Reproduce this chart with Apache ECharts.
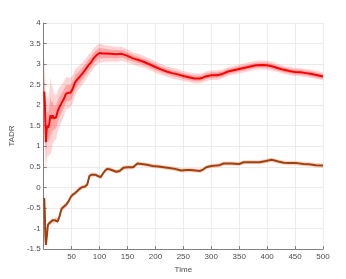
<!DOCTYPE html>
<html><head><meta charset="utf-8">
<script src="https://cdn.jsdelivr.net/npm/echarts@6/dist/echarts.min.js"></script>
<style>html,body{margin:0;padding:0;background:#fff}#c{width:346px;height:279px}</style>
</head><body><div id="c"></div>
<script>
const xTicks = [50,100,150,200,250,300,350,400,450,500];
const yTicks = [-1.5,-1,-0.5,0,0.5,1,1.5,2,2.5,3,3.5,4];

const redTime = [1,2,3,4,5,6,8,10,12,14,16,18,20,22,25,28,32,36,40,44,48,52,56,60,65,70,75,80,85,90,95,100,105,110,120,130,140,150,160,170,180,190,200,210,220,230,240,250,260,270,280,285,290,300,310,320,330,340,350,360,370,380,390,400,410,420,430,440,450,460,470,480,490,500];
const redMean = [2.33,2.1,1.6,1.1,1.35,1.5,1.45,1.55,1.75,1.68,1.75,1.68,1.72,1.7,1.85,1.95,2.05,2.15,2.28,2.3,2.3,2.4,2.55,2.62,2.7,2.78,2.87,2.97,3.05,3.15,3.22,3.27,3.26,3.26,3.25,3.24,3.25,3.20,3.14,3.10,3.05,2.99,2.93,2.87,2.82,2.78,2.75,2.71,2.68,2.65,2.65,2.67,2.70,2.73,2.73,2.76,2.82,2.85,2.88,2.91,2.94,2.97,2.98,2.97,2.94,2.90,2.86,2.83,2.81,2.80,2.78,2.76,2.73,2.70];
const redOuter = [0.9,0.9,0.9,0.8,0.8,0.75,0.7,0.75,0.95,0.8,0.7,0.6,0.55,0.55,0.5,0.48,0.45,0.42,0.4,0.38,0.36,0.34,0.32,0.3,0.28,0.27,0.26,0.25,0.24,0.24,0.24,0.23,0.22,0.2,0.19,0.18,0.17,0.16,0.15,0.15,0.14,0.14,0.14,0.13,0.13,0.13,0.13,0.12,0.12,0.12,0.12,0.12,0.12,0.12,0.12,0.11,0.11,0.11,0.11,0.11,0.11,0.11,0.11,0.11,0.11,0.1,0.1,0.1,0.1,0.1,0.1,0.1,0.1,0.1];
const redInner = [0.45,0.45,0.45,0.4,0.4,0.38,0.35,0.38,0.45,0.4,0.35,0.3,0.28,0.28,0.26,0.25,0.24,0.22,0.21,0.2,0.19,0.18,0.17,0.16,0.15,0.15,0.14,0.14,0.13,0.13,0.13,0.12,0.12,0.11,0.1,0.1,0.09,0.09,0.08,0.08,0.08,0.08,0.08,0.07,0.07,0.07,0.07,0.07,0.07,0.07,0.07,0.07,0.07,0.07,0.07,0.06,0.06,0.06,0.06,0.06,0.06,0.06,0.06,0.06,0.06,0.06,0.06,0.06,0.06,0.06,0.06,0.06,0.06,0.06];

const brownTime = [1,2,3,4,5,6,7,8,10,12,14,16,18,20,22,25,28,32,36,41,45,49,53,57,63,68,74,78,82,86,90,94,98,102,106,110,114,118,124,130,136,143,150,160,168,175,185,195,205,215,225,235,246,255,263,272,280,286,291,300,308,315,322,335,350,358,370,386,398,408,420,430,442,453,465,475,487,500];
const brownMean = [-0.26,-0.6,-1.2,-1.40,-1.38,-1.15,-0.98,-0.9,-0.87,-0.85,-0.83,-0.8,-0.84,-0.8,-0.77,-0.83,-0.72,-0.52,-0.47,-0.41,-0.33,-0.22,-0.17,-0.13,-0.05,0.0,0.02,0.07,0.28,0.31,0.31,0.30,0.27,0.25,0.33,0.41,0.45,0.44,0.41,0.38,0.40,0.48,0.49,0.49,0.58,0.57,0.55,0.52,0.51,0.49,0.47,0.45,0.41,0.42,0.42,0.41,0.40,0.44,0.49,0.52,0.53,0.54,0.58,0.58,0.57,0.61,0.61,0.61,0.64,0.67,0.63,0.60,0.59,0.59,0.57,0.56,0.54,0.53];
const brownBand = [0.07,0.07,0.07,0.07,0.07,0.07,0.06,0.06,0.06,0.06,0.06,0.06,0.06,0.06,0.06,0.06,0.06,0.06,0.06,0.06,0.05,0.05,0.05,0.05,0.05,0.05,0.05,0.05,0.05,0.05,0.05,0.05,0.05,0.05,0.05,0.05,0.05,0.05,0.05,0.05,0.05,0.05,0.05,0.05,0.05,0.05,0.05,0.05,0.05,0.05,0.05,0.05,0.05,0.05,0.05,0.05,0.05,0.05,0.05,0.05,0.05,0.05,0.05,0.05,0.05,0.05,0.05,0.05,0.05,0.05,0.05,0.05,0.05,0.05,0.05,0.05,0.05,0.05];

function band(times, mean, hw, color) {
  return {
    type:'custom', silent:true, z:1, clip:true,
    data:[[times[0], mean[0]]],
    encode:{x:0, y:1},
    renderItem:function(params, api) {
      const up = times.map((t, i) => api.coord([t, mean[i] + hw[i]]));
      const lo = times.map((t, i) => api.coord([t, mean[i] - hw[i]])).reverse();
      return {type:'polygon', shape:{points: up.concat(lo)}, style:{fill:color, stroke:null}};
    }
  };
}

const chart = echarts.init(document.getElementById('c'), null, {renderer:'canvas'});
const font = {fontFamily:'Liberation Sans, Arial, sans-serif', fontSize:8, color:'#4d4d4d'};
chart.setOption({
  animation:false,
  backgroundColor:'#fff',
  grid:{left:24, right:23, top:23, bottom:30, containLabel:false},
  xAxis:{type:'value', min:0, max:500, interval:50,
    name:'Time', nameLocation:'middle', nameGap:14, nameTextStyle:font,
    axisLine:{onZero:false, lineStyle:{color:'#808080', width:1}},
    axisTick:{inside:true, length:3, lineStyle:{color:'#808080'}},
    axisLabel:Object.assign({margin:4, formatter:v => xTicks.includes(v) ? String(v) : ''}, font),
    splitLine:{show:true, lineStyle:{color:'#ebebeb', width:1}}},
  yAxis:{type:'value', min:-1.5, max:4, interval:0.5,
    name:'TADR', nameLocation:'middle', nameGap:15, nameRotate:90, nameTextStyle:font,
    axisLine:{show:true, onZero:false, lineStyle:{color:'#808080', width:1}},
    axisTick:{show:true, inside:true, length:3, lineStyle:{color:'#808080'}},
    axisLabel:Object.assign({margin:3, formatter:v => yTicks.includes(v) ? String(v) : ''}, font),
    splitLine:{show:true, lineStyle:{color:'#ebebeb', width:1}}},
  series:[
    band(redTime, redMean, redOuter, 'rgba(255,0,0,0.17)'),
    band(redTime, redMean, redInner, 'rgba(255,0,0,0.22)'),
    band(brownTime, brownMean, brownBand, 'rgba(225,130,80,0.35)'),
    {type:'line', data:redTime.map((t,i)=>[t, redMean[i]]), symbol:'none', z:3,
      lineStyle:{color:'#ff0000', width:2}},
    {type:'line', data:brownTime.map((t,i)=>[t, brownMean[i]]), symbol:'none', z:3,
      lineStyle:{color:'#a3400e', width:2}}
  ]
});
</script></body></html>
